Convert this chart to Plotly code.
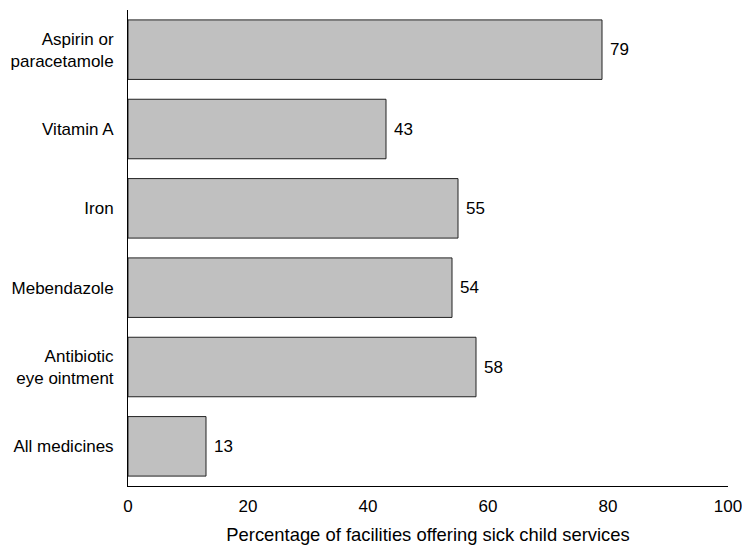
import plotly.graph_objects as go

categories = ["Aspirin or<br>paracetamole", "Vitamin A", "Iron", "Mebendazole",
              "Antibiotic<br>eye ointment", "All medicines"]
values = [79, 43, 55, 54, 58, 13]
x_ticks = [0, 20, 40, 60, 80, 100]
x_title = "Percentage of facilities offering sick child services"

FONT = "Liberation Sans, Arial, sans-serif"
FS = 17

fig = go.Figure()
fig.add_trace(go.Bar(
    x=values, y=categories, orientation="h",
    marker=dict(color="#c0c0c0", line=dict(color="#222222", width=1)),
    hoverinfo="skip",
))
for c, v in zip(categories, values):
    fig.add_annotation(x=v, y=c, text=str(v), showarrow=False,
                       xanchor="left", xshift=6, font=dict(family=FONT, size=FS, color="black"))

fig.update_layout(
    width=742, height=548,
    margin=dict(l=128, r=14, t=10, b=62, autoexpand=False),
    plot_bgcolor="white", paper_bgcolor="white",
    bargap=0.25,
    showlegend=False,
    font=dict(family=FONT, size=FS, color="black"),
)
fig.update_xaxes(range=[0, 100], tickvals=x_ticks, showgrid=False, zeroline=False,
                 showline=True, linecolor="black", linewidth=1, ticks="",
                 automargin=False, ticklabeloverflow="allow", ticklabelstandoff=5,
                 title=dict(text=x_title, standoff=12, font=dict(size=18.4)), fixedrange=True)
fig.update_yaxes(categoryorder="array", categoryarray=categories[::-1],
                 showgrid=False, zeroline=False, automargin=False,
                 showline=True, linecolor="black", linewidth=1, ticks="",
                 ticklabelstandoff=10, fixedrange=True)
fig.write_html("out.html", config={"displayModeBar": False},
               post_script="document.body.style.margin='0';document.body.style.overflow='hidden';")
